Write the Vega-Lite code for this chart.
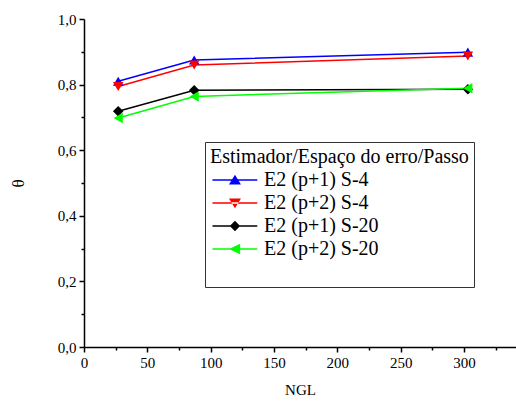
{
  "$schema": "https://vega.github.io/schema/vega-lite/v6.json",
  "width": 432,
  "height": 328,
  "autosize": {"type": "none"},
  "padding": {"left": 84, "top": 19, "right": 0, "bottom": 56},
  "background": "white",
  "config": {
    "font": "Liberation Serif",
    "view": {"stroke": null},
    "axis": {
      "grid": false,
      "domainColor": "black",
      "domainWidth": 1.5,
      "tickColor": "black",
      "tickWidth": 1.5,
      "labelFont": "Liberation Serif",
      "labelFontSize": 15,
      "labelColor": "black",
      "titleFont": "Liberation Serif",
      "titleFontWeight": "normal",
      "titleFontSize": 15,
      "titleColor": "black",
      "labelOverlap": false,
      "labelFlush": false
    },
    "legend": {
      "titleFont": "Liberation Serif",
      "titleFontSize": 20,
      "titleFontWeight": "normal",
      "titleColor": "black",
      "titleLimit": 400,
      "titlePadding": 3,
      "labelFont": "Liberation Serif",
      "labelFontSize": 20,
      "labelColor": "black",
      "labelLimit": 300,
      "labelOffset": 34,
      "rowPadding": 3,
      "padding": 5,
      "strokeColor": "#333333",
      "fillColor": "white"
    }
  },
  "data": {
    "values": [
      {"series": "E2 (p+1) S-4", "NGL": 27, "theta": 0.810},
      {"series": "E2 (p+1) S-4", "NGL": 87, "theta": 0.875},
      {"series": "E2 (p+1) S-4", "NGL": 303, "theta": 0.899},
      {"series": "E2 (p+2) S-4", "NGL": 27, "theta": 0.794},
      {"series": "E2 (p+2) S-4", "NGL": 87, "theta": 0.860},
      {"series": "E2 (p+2) S-4", "NGL": 303, "theta": 0.887},
      {"series": "E2 (p+1) S-20", "NGL": 27, "theta": 0.719},
      {"series": "E2 (p+1) S-20", "NGL": 87, "theta": 0.783},
      {"series": "E2 (p+1) S-20", "NGL": 303, "theta": 0.786},
      {"series": "E2 (p+2) S-20", "NGL": 27, "theta": 0.698},
      {"series": "E2 (p+2) S-20", "NGL": 87, "theta": 0.764},
      {"series": "E2 (p+2) S-20", "NGL": 303, "theta": 0.789}
    ]
  },
  "encoding": {
    "x": {
      "field": "NGL",
      "type": "quantitative",
      "scale": {"domain": [0, 341], "nice": false, "zero": false},
      "axis": {
        "title": "NGL",
        "values": [0, 25, 50, 75, 100, 125, 150, 175, 200, 225, 250, 275, 300, 325],
        "labelExpr": "datum.value % 50 == 0 ? datum.label : ''",
        "tickSize": {"condition": {"test": "datum.value % 50 == 0", "value": 5}, "value": 3},
        "labelPadding": 3,
        "titlePadding": 12
      }
    },
    "y": {
      "field": "theta",
      "type": "quantitative",
      "scale": {"domain": [0, 1], "nice": false},
      "axis": {
        "title": "θ",
        "titleFontSize": 17,
        "values": [0, 0.1, 0.2, 0.3, 0.4, 0.5, 0.6, 0.7, 0.8, 0.9, 1.0],
        "labelExpr": "round(datum.value*10) % 2 == 0 ? replace(format(datum.value, '.1f'), '.', ',') : ''",
        "tickSize": {"condition": {"test": "round(datum.value*10) % 2 == 0", "value": 5}, "value": 3},
        "labelPadding": 3,
        "titlePadding": 30
      }
    }
  },
  "layer": [
    {
      "mark": {"type": "line", "strokeWidth": 1.5},
      "encoding": {
        "color": {
          "field": "series",
          "type": "nominal",
          "scale": {"domain": ["E2 (p+1) S-4", "E2 (p+2) S-4", "E2 (p+1) S-20", "E2 (p+2) S-20"], "range": ["#0000ff", "#ff0000", "#000000", "#00ff00"]},
          "legend": null
        }
      }
    },
    {
      "mark": {"type": "point", "filled": true, "size": 110, "opacity": 1},
      "encoding": {
        "color": {
          "field": "series",
          "type": "nominal",
          "scale": {"domain": ["E2 (p+1) S-4", "E2 (p+2) S-4", "E2 (p+1) S-20", "E2 (p+2) S-20"], "range": ["#0000ff", "#ff0000", "#000000", "#00ff00"]},
          "legend": null
        },
        "shape": {
          "field": "series",
          "type": "nominal",
          "scale": {"domain": ["E2 (p+1) S-4", "E2 (p+2) S-4", "E2 (p+1) S-20", "E2 (p+2) S-20"], "range": ["triangle-up", "triangle-down", "diamond", "triangle-left"]},
          "legend": null
        }
      }
    },
    {
      "transform": [{"filter": "false"}],
      "mark": {"type": "point", "filled": true, "size": 256, "opacity": 1},
      "encoding": {
        "color": {
          "field": "series",
          "type": "nominal",
          "title": "Estimador/Espaço do erro/Passo",
          "scale": {"domain": ["E2 (p+1) S-4", "E2 (p+2) S-4", "E2 (p+1) S-20", "E2 (p+2) S-20", " "], "range": ["#0000ff", "#ff0000", "#000000", "#00ff00", "#ffffff"]},
          "legend": {"orient": "none", "legendX": 121, "legendY": 123, "symbolSize": 256}
        },
        "shape": {
          "field": "series",
          "type": "nominal",
          "title": "Estimador/Espaço do erro/Passo",
          "scale": {
            "domain": ["E2 (p+1) S-4", "E2 (p+2) S-4", "E2 (p+1) S-20", "E2 (p+2) S-20", " "],
            "range": [
              "M-0.94,-0.09H4.66V0.09H-0.94Z M1.87,-0.65L2.62,0.55L1.12,0.55Z",
              "M-0.94,-0.09H4.66V0.09H-0.94Z M1.87,0.65L2.62,-0.55L1.12,-0.55Z",
              "M-0.94,-0.09H4.66V0.09H-0.94Z M1.87,-0.65L2.52,0L1.87,0.65L1.22,0Z",
              "M-0.94,-0.09H4.66V0.09H-0.94Z M1.12,0L2.52,-0.65L2.52,0.65Z",
              "M-1,-0.01H-0.98V0.01H-1Z"
            ]
          },
          "legend": {"orient": "none", "legendX": 121, "legendY": 123, "symbolSize": 256}
        }
      }
    }
  ],
  "resolve": {
    "scale": {"color": "independent", "shape": "independent"},
    "legend": {"color": "independent", "shape": "independent"}
  }
}
